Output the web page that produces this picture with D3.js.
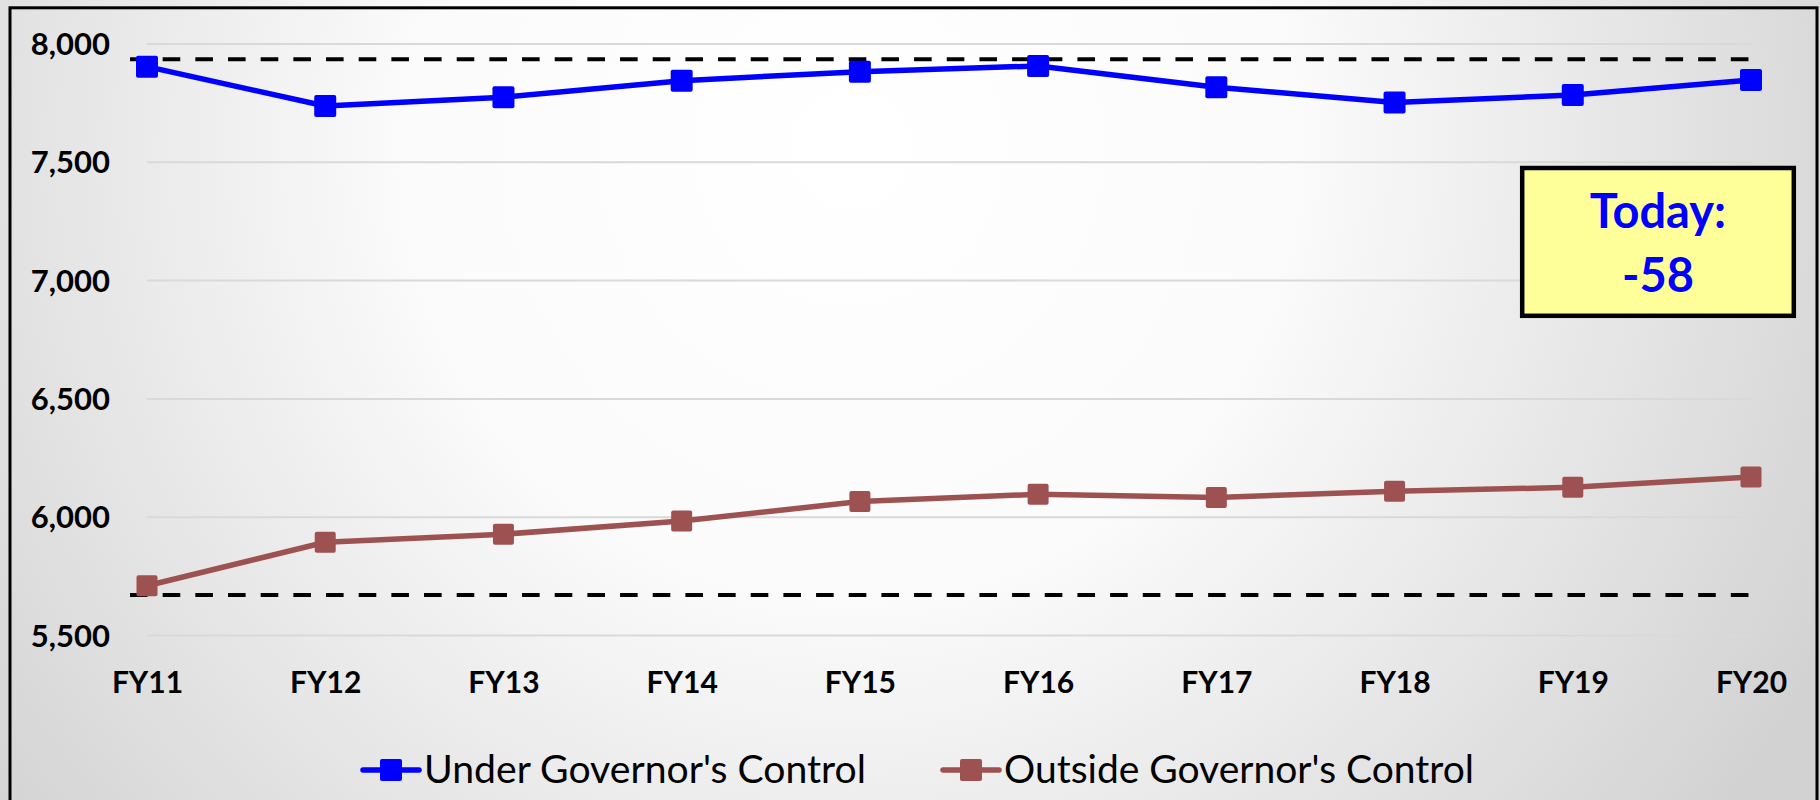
<!DOCTYPE html>
<html>
<head>
<meta charset="utf-8">
<script src="https://cdn.jsdelivr.net/npm/d3@7"></script>
<style>
  html, body { margin: 0; padding: 0; background: #ffffff; }
  svg { display: block; }
</style>
</head>
<body>
<svg id="chart" width="1820" height="800"></svg>
<script>
// ---- data ----
const categories = ["FY11","FY12","FY13","FY14","FY15","FY16","FY17","FY18","FY19","FY20"];
const underControl = [7902, 7736, 7773, 7843, 7881, 7905, 7815, 7751, 7782, 7846];
const outsideControl = [5708, 5892, 5926, 5982, 6064, 6095, 6081, 6108, 6124, 6168];
const seriesNames = ["Under Governor's Control", "Outside Governor's Control"];
const seriesColors = ["#0000FF", "#9E5151"];
const yTicks = [5500, 6000, 6500, 7000, 7500, 8000];
const yDomain = [5500, 8000];
const refLines = [7933, 5669];
const calloutLines = ["Today:", "-58"];

// ---- layout ----
const W = 1820, H = 800;
const plot = { left: 147, right: 1751, top: 43.5, bottom: 635 };

const svg = d3.select("#chart");
const defs = svg.append("defs");
const grad = defs.append("radialGradient")
  .attr("id", "bg").attr("gradientUnits", "userSpaceOnUse")
  .attr("cx", 850).attr("cy", 150).attr("r", 1100);
grad.append("stop").attr("offset", "0").attr("stop-color", "#ffffff");
grad.append("stop").attr("offset", "0.4").attr("stop-color", "#fbfbfb");
grad.append("stop").attr("offset", "1").attr("stop-color", "#d2d2d2");

svg.append("rect").attr("x", 0).attr("y", 0).attr("width", W).attr("height", H)
  .attr("fill", "url(#bg)");

// frame
svg.append("rect").attr("x", 10).attr("y", 7.8).attr("width", 1807).attr("height", 900)
  .attr("fill", "none").attr("stroke", "#000").attr("stroke-width", 3);

const x = d3.scalePoint().domain(categories).range([plot.left, plot.right]);
const y = d3.scaleLinear().domain(yDomain).range([plot.bottom, plot.top]);

// gridlines
svg.append("g")
  .attr("transform", `translate(${plot.left},0)`)
  .call(d3.axisLeft(y).tickValues(yTicks).tickSize(-(plot.right - plot.left)).tickFormat(""))
  .call(g => g.select(".domain").remove())
  .call(g => g.selectAll("line").attr("stroke", "#d9d9d9").attr("stroke-width", 2));

// y axis labels
svg.append("g")
  .attr("transform", `translate(${plot.left},0)`)
  .call(d3.axisLeft(y).tickValues(yTicks).tickSize(0).tickPadding(37).tickFormat(d3.format(",")))
  .call(g => g.select(".domain").remove())
  .call(g => g.selectAll("text")
    .attr("font-family", "Lato, sans-serif").attr("font-weight", "bold")
    .attr("font-size", 31).attr("fill", "#000").attr("dy", "0.36em"));

// x axis labels
svg.append("g")
  .attr("transform", `translate(0,${plot.bottom})`)
  .call(d3.axisBottom(x).tickSize(0))
  .call(g => g.select(".domain").remove())
  .call(g => g.selectAll("text")
    .attr("font-family", "Lato, sans-serif").attr("font-weight", "bold")
    .attr("font-size", 30).attr("fill", "#000").attr("y", 58).attr("dy", 0));

// reference dashed lines
svg.append("g").selectAll("line").data(refLines).join("line")
  .attr("x1", x(categories[0]) - 17)
  .attr("x2", x(categories[categories.length - 1]) - 2)
  .attr("y1", d => y(d)).attr("y2", d => y(d))
  .attr("stroke", "#000").attr("stroke-width", 4)
  .attr("stroke-dasharray", "17.6 15.07");

// series
const series = [underControl, outsideControl];
const markerSize = [22, 21];
const line = d3.line().x((d, i) => x(categories[i])).y(d => y(d));
series.forEach((vals, si) => {
  const g = svg.append("g");
  g.append("path").datum(vals).attr("d", line)
    .attr("fill", "none").attr("stroke", seriesColors[si]).attr("stroke-width", 5.5)
    .attr("stroke-linejoin", "round");
  const s = markerSize[si];
  g.selectAll("rect").data(vals).join("rect")
    .attr("x", (d, i) => x(categories[i]) - s / 2)
    .attr("y", d => y(d) - s / 2)
    .attr("width", s).attr("height", s).attr("rx", 2)
    .attr("fill", seriesColors[si]);
});

// callout box
const box = svg.append("g");
box.append("rect").attr("x", 1522.2).attr("y", 168).attr("width", 271.6).attr("height", 147.8)
  .attr("fill", "#FFFF99").attr("stroke", "#000").attr("stroke-width", 4.5);
box.selectAll("text").data(calloutLines).join("text")
  .attr("x", 1658).attr("y", (d, i) => 228 + i * 64)
  .attr("text-anchor", "middle")
  .attr("font-family", "Lato, sans-serif").attr("font-weight", "bold")
  .attr("font-size", 47).attr("fill", "#0000FF")
  .text(d => d);

// legend
const legendX = [363, 943];
const legendTextLen = [442, 470];
const leg = svg.append("g");
seriesNames.forEach((name, i) => {
  const lg = leg.append("g").attr("transform", `translate(${legendX[i]},770)`);
  lg.append("line").attr("x1", 0).attr("x2", 56).attr("y1", 0).attr("y2", 0)
    .attr("stroke", seriesColors[i]).attr("stroke-width", 5.5).attr("stroke-linecap", "round");
  lg.append("rect").attr("x", 28 - 11).attr("y", -11).attr("width", 22).attr("height", 22)
    .attr("rx", 2).attr("fill", seriesColors[i]);
  lg.append("text").attr("x", 61).attr("y", 12.7)
    .attr("font-family", "Lato, sans-serif").attr("font-size", 38).attr("fill", "#000")
    .attr("textLength", legendTextLen[i]).attr("lengthAdjust", "spacingAndGlyphs")
    .text(name);
});
</script>
</body>
</html>
